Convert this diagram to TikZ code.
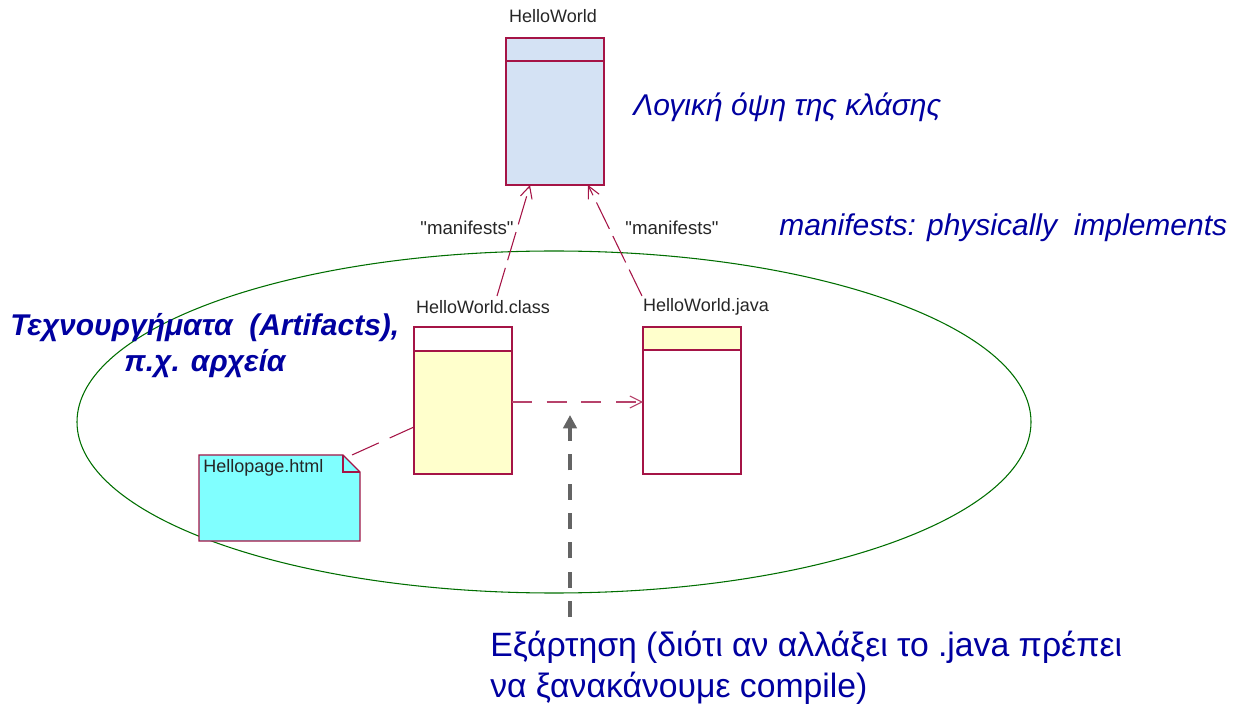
\documentclass[tikz,border=0pt]{standalone}
\usepackage{fontspec}
\setmainfont{Liberation Sans}[Ligatures=TeXOff]
\usetikzlibrary{arrows.meta}
\definecolor{umlred}{RGB}{165,20,70}
\definecolor{lblue}{RGB}{212,226,244}
\definecolor{lyellow}{RGB}{255,255,204}
\definecolor{lcyan}{RGB}{128,255,255}
\definecolor{txtblue}{RGB}{0,0,160}
\definecolor{ellgreen}{RGB}{0,110,0}
\definecolor{greyarr}{RGB}{100,100,100}
\tikzset{
  umlbox/.style={draw=umlred, line width=0.9pt, rectangle, inner sep=0pt, outer sep=0pt, anchor=north west, minimum width=73.5pt, minimum height=110.25pt},
  smalllbl/.style={font=\fontsize{13.5}{15}\selectfont, text=black!85, inner sep=0pt},
  bigblue/.style={font=\fontsize{22.5}{26}\selectfont, text=txtblue, inner sep=0pt, anchor=west},
  manif/.style={draw=umlred, line width=0.8pt, dash pattern=on 22pt off 6pt, -{Straight Barb[length=9pt,width=9pt]}},
  depend/.style={draw=umlred!80, line width=0.8pt, dash pattern=on 15pt off 11pt, -{Straight Barb[length=9pt,width=9pt]}},
  greydash/.style={draw=greyarr, line width=3pt, dash pattern=on 12pt off 10pt, -{Triangle[length=10pt,width=10pt]}},
}
\begin{document}
\begin{tikzpicture}[x=0.75pt,y=-0.75pt]
\useasboundingbox (0,0) rectangle (1238,705);
% ellipse
\draw[ellgreen, line width=0.8pt] (554,422) ellipse [x radius=357.75pt, y radius=128.25pt];
% HelloWorld class
\node[umlbox, fill=lblue] (hw) at (506,38) {};
\draw[umlred, line width=0.9pt] (506,61) -- (604,61);
\node[smalllbl] (hwl) at (553,16) {HelloWorld};
% HelloWorld.class
\node[umlbox, fill=lyellow] (hc) at (414,327) {};
\fill[white] (414,327) rectangle (512,351);
\draw[umlred, line width=0.9pt] (414,327) rectangle (512,474);
\draw[umlred, line width=0.9pt] (414,351) -- (512,351);
\node[smalllbl] (hcl) at (483,307) {HelloWorld.class};
% HelloWorld.java
\node[umlbox, fill=white] (hj) at (643,327) {};
\fill[lyellow] (643,327) rectangle (741,350);
\draw[umlred, line width=0.9pt] (643,327) rectangle (741,474);
\draw[umlred, line width=0.9pt] (643,350) -- (741,350);
\node[smalllbl] (hjl) at (706,307) {HelloWorld.java};
% note
\draw[umlred, line width=0.9pt, fill=lcyan] (199,455) -- (343,455) -- (360,472) -- (360,541) -- (199,541) -- cycle;
\draw[umlred, line width=0.9pt] (343,455) -- (343,472) -- (360,472);
\node[smalllbl, anchor=west] (note) at (203,468) {Hellopage.html};
\coordinate (notec) at (352,455);
\coordinate (hcw) at (414,427);
\draw[umlred, line width=0.8pt, dash pattern=on 22pt off 9pt] (notec) -- (hcw);
% manifests
\coordinate (m1s) at (497,296);
\coordinate (m1e) at (530,185);
\coordinate (m2s) at (642,296);
\coordinate (m2e) at (588,185);
\draw[manif] (m1s) -- (m1e);
\draw[manif] (m2s) -- (m2e);
\node[smalllbl, font=\fontsize{14}{16}\selectfont] (ml1) at (467,228) {"manifests"};
\node[smalllbl, font=\fontsize{14}{16}\selectfont] (ml2) at (672,228) {"manifests"};
% dependency
\coordinate (d1) at (512,402);
\coordinate (d2) at (643,402);
\draw[depend] (d1) -- (d2);
% grey arrow
\coordinate (g0) at (570,617);
\coordinate (g1) at (570,415);
\draw[greydash] (g0) -- (g1);
% texts
\node[bigblue, font=\fontsize{22.5}{26}\selectfont\itshape] (logic) at (633,107) {Λογική όψη της κλάσης};
\node[bigblue, font=\fontsize{22.5}{26}\selectfont\itshape] (phys) at (779,228) {manifests: physically\ \ implements};
\node[bigblue, font=\fontsize{22.5}{26}\selectfont\bfseries\itshape] (art1) at (10,328) {Τεχνουργήματα\ \ (Artifacts),};
\node[bigblue, anchor=center, font=\fontsize{22.5}{26}\selectfont\bfseries\itshape] (art2) at (205,364) {π.χ. αρχεία};
\node[bigblue, font=\fontsize{25.3}{29}\selectfont] (dep1) at (490,647) {Εξάρτηση (διότι αν αλλάξει το .java πρέπει};
\node[bigblue, font=\fontsize{25.3}{29}\selectfont] (dep2) at (490,688) {να ξανακάνουμε compile)};
\end{tikzpicture}
\end{document}
